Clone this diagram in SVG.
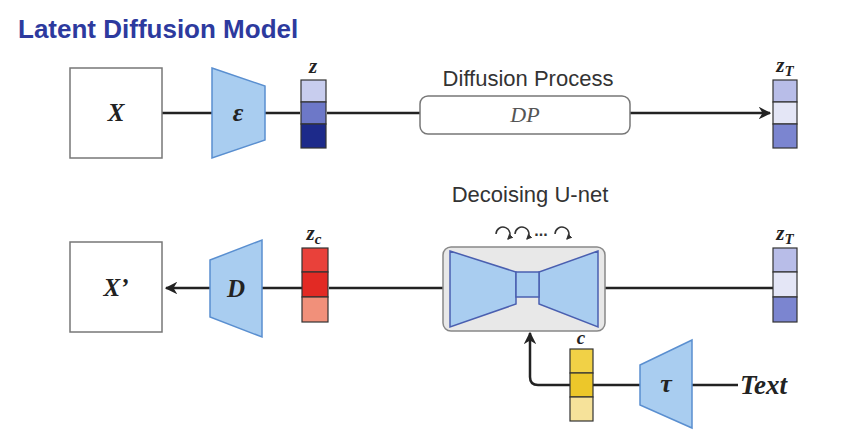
<svg xmlns="http://www.w3.org/2000/svg" width="851" height="439" viewBox="0 0 851 439">
<defs>
<style>
.ln{stroke:#222;stroke-width:2.5;fill:none}
.box{fill:#fff;stroke:#777;stroke-width:1.5}
.trap{fill:#a9cdf0;stroke:#5a8fd0;stroke-width:1.5}
.cell{stroke:#333;stroke-width:1.2}
.mi{font-family:"Liberation Serif",serif;font-style:italic;font-weight:bold;fill:#222}
.sans{font-family:"Liberation Sans",sans-serif;fill:#333}
.curl{fill:none;stroke:#333;stroke-width:1.5}
</style>
<marker id="ah" viewBox="0 0 10 10" refX="9" refY="5" markerWidth="5" markerHeight="5" orient="auto-start-reverse" markerUnits="strokeWidth"><path d="M0,0 L10,5 L0,10 L3,5 z" fill="#222"/></marker>
<marker id="sh" viewBox="0 0 10 10" refX="8" refY="5" markerWidth="4" markerHeight="4" orient="auto" markerUnits="strokeWidth"><path d="M0,0 L10,5 L0,10 z" fill="#333"/></marker>
</defs>
<rect width="851" height="439" fill="#fff"/>
<text x="18" y="38" font-family="Liberation Sans,sans-serif" font-weight="bold" font-size="26" fill="#2d3a9e">Latent Diffusion Model</text>
<g id="connectors">
<line class="ln" x1="162" y1="113" x2="212" y2="113"/>
<line class="ln" x1="265" y1="113" x2="300" y2="113"/>
<line class="ln" x1="327" y1="113" x2="420" y2="113"/>
<line class="ln" x1="630" y1="113" x2="770" y2="113" marker-end="url(#ah)"/>
<line class="ln" x1="210" y1="288" x2="166" y2="288" marker-end="url(#ah)"/>
<line class="ln" x1="262" y1="288" x2="302" y2="288"/>
<line class="ln" x1="329" y1="288" x2="443" y2="288"/>
<line class="ln" x1="605" y1="288" x2="773" y2="288"/>
<path class="ln" d="M570,385 H538 Q530,385 530,377 V333" marker-end="url(#ah)"/>
<line class="ln" x1="593" y1="385" x2="640" y2="385"/>
<line class="ln" x1="692" y1="385" x2="738" y2="385"/>
</g>
<g id="X"><rect class="box" x="70" y="68" width="92" height="90"/><text class="mi" x="116" y="121" font-size="25" text-anchor="middle">X</text></g>
<g id="enc"><polygon class="trap" points="212,68 265,86 265,140 212,158"/><text class="mi" x="238" y="121" font-size="26" text-anchor="middle" fill="#1a2a6e">ε</text></g>
<g id="z"><text class="mi" x="313" y="73" font-size="21" text-anchor="middle">z</text>
<rect class="cell" x="301" y="80" width="25" height="22" fill="#c8cdee"/><rect class="cell" x="301" y="102" width="25" height="22" fill="#6d78c8"/><rect class="cell" x="301" y="124" width="25" height="24" fill="#1d2a8a"/></g>
<g id="dp"><text class="sans" x="528" y="86" font-size="22" text-anchor="middle">Diffusion Process</text>
<rect x="420" y="96" width="210" height="38" rx="8" fill="#fff" stroke="#777" stroke-width="1.5"/><text x="525" y="122" font-family="Liberation Serif,serif" font-style="italic" font-size="22" fill="#555" text-anchor="middle">DP</text></g>
<g id="zT1"><text class="mi" x="785" y="72" font-size="21" text-anchor="middle">z<tspan font-size="15" dy="4">T</tspan></text>
<rect class="cell" x="773" y="80" width="24" height="22" fill="#b8bde8"/><rect class="cell" x="773" y="102" width="24" height="22" fill="#e4e6f6"/><rect class="cell" x="773" y="124" width="24" height="24" fill="#7b85d0"/></g>
<g id="Xp"><rect class="box" x="70" y="242" width="92" height="90"/><text class="mi" x="116" y="296" font-size="25" text-anchor="middle">X’</text></g>
<g id="dec"><polygon class="trap" points="210,260 262,240 262,337 210,317"/><text class="mi" x="236" y="297" font-size="25" text-anchor="middle" fill="#1a2a6e">D</text></g>
<g id="zc"><text class="mi" x="314" y="240" font-size="21" text-anchor="middle">z<tspan font-size="15" dy="4">c</tspan></text>
<rect class="cell" x="302" y="248" width="26" height="24" fill="#e9413a"/><rect class="cell" x="302" y="272" width="26" height="25" fill="#e22a24"/><rect class="cell" x="302" y="297" width="26" height="25" fill="#f1907a"/></g>
<g id="unet"><text class="sans" x="530" y="202" font-size="22" text-anchor="middle">Decoising U-net</text>
<path class="curl" d="M496,234 A7,7 0 1 1 508,239" marker-end="url(#sh)"/>
<path class="curl" d="M515,234 A7,7 0 1 1 527,239" marker-end="url(#sh)"/>
<path class="curl" d="M555,234 A7,7 0 1 1 567,239" marker-end="url(#sh)"/>
<text x="541" y="236" font-family="Liberation Sans,sans-serif" font-weight="bold" font-size="16" fill="#333" text-anchor="middle">...</text>
<rect x="443" y="247" width="162" height="84" rx="8" fill="#e8e8e8" stroke="#888" stroke-width="1.5"/>
<polygon points="450,251 516,272 516,304 450,327" fill="#a9cdf0" stroke="#4a5fb0" stroke-width="1.5"/>
<polygon points="598,251 539,272 539,304 598,327" fill="#a9cdf0" stroke="#4a5fb0" stroke-width="1.5"/>
<rect x="516" y="272" width="23" height="25" fill="#a9cdf0" stroke="#4a5fb0" stroke-width="1.5"/></g>
<g id="zT2"><text class="mi" x="785" y="240" font-size="21" text-anchor="middle">z<tspan font-size="15" dy="4">T</tspan></text>
<rect class="cell" x="773" y="248" width="24" height="24" fill="#b8bde8"/><rect class="cell" x="773" y="272" width="24" height="25" fill="#e4e6f6"/><rect class="cell" x="773" y="297" width="24" height="25" fill="#7b85d0"/></g>
<g id="c"><text class="mi" x="581" y="344" font-size="19" text-anchor="middle">c</text>
<rect class="cell" x="570" y="349" width="23" height="24" fill="#f1d146"/><rect class="cell" x="570" y="373" width="23" height="24" fill="#ecc72a"/><rect class="cell" x="570" y="397" width="23" height="24" fill="#f6e29a"/></g>
<g id="tau"><polygon class="trap" points="640,365 692,340 692,428 640,405"/><text class="mi" x="666" y="392" font-size="26" text-anchor="middle" fill="#1a2a6e">τ</text></g>
<g id="text"><text class="mi" x="740" y="394" font-size="27">Text</text></g>
</svg>
